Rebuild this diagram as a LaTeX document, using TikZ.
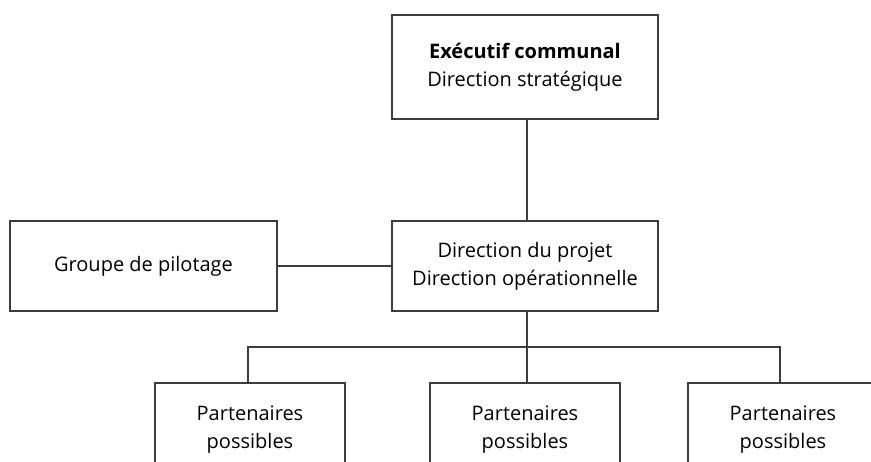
\documentclass[tikz,border=0pt]{standalone}
\usepackage{fontspec}
\setmainfont{Open Sans}
\begin{document}
\begin{tikzpicture}[x=1pt,y=-1pt,
  box/.style={draw=linegray, line width=1.3pt, inner sep=0pt, align=center,
    font=\fontsize{20}{28}\selectfont, text=black},
  conn/.style={draw=linegray, line width=1.2pt}]
\definecolor{linegray}{HTML}{3C3C3C}
\useasboundingbox (0,0) rectangle (871,461);
\clip (0,0) rectangle (871,461);
\node[box, minimum width=266pt, minimum height=104pt] (top) at (525,67) {\textbf{Exécutif communal}\\Direction stratégique};
\node[box, minimum width=266pt, minimum height=90pt] (mid) at (525,266) {Direction du projet\\Direction opérationnelle};
\node[box, minimum width=267pt, minimum height=90pt] (grp) at (143.5,266) {Groupe de pilotage};
\node[box, minimum width=190pt, minimum height=94pt] (p1) at (250,430) {Partenaires\\possibles};
\node[box, minimum width=190pt, minimum height=94pt] (p2) at (525,430) {Partenaires\\possibles};
\node[box, minimum width=190pt, minimum height=94pt] (p3) at (783,430) {Partenaires\\possibles};
\coordinate (j) at (527,347);
\draw[conn] ([xshift=2pt]top.south) -- ([xshift=2pt]mid.north);
\draw[conn] (grp.east) -- (mid.west);
\draw[conn] ([xshift=2pt]mid.south) -- (j);
\draw[conn] ([xshift=-2pt]p1.north) |- (j) -| ([xshift=-3pt]p3.north);
\draw[conn] (j) -- ([xshift=2pt]p2.north);
\end{tikzpicture}
\end{document}
